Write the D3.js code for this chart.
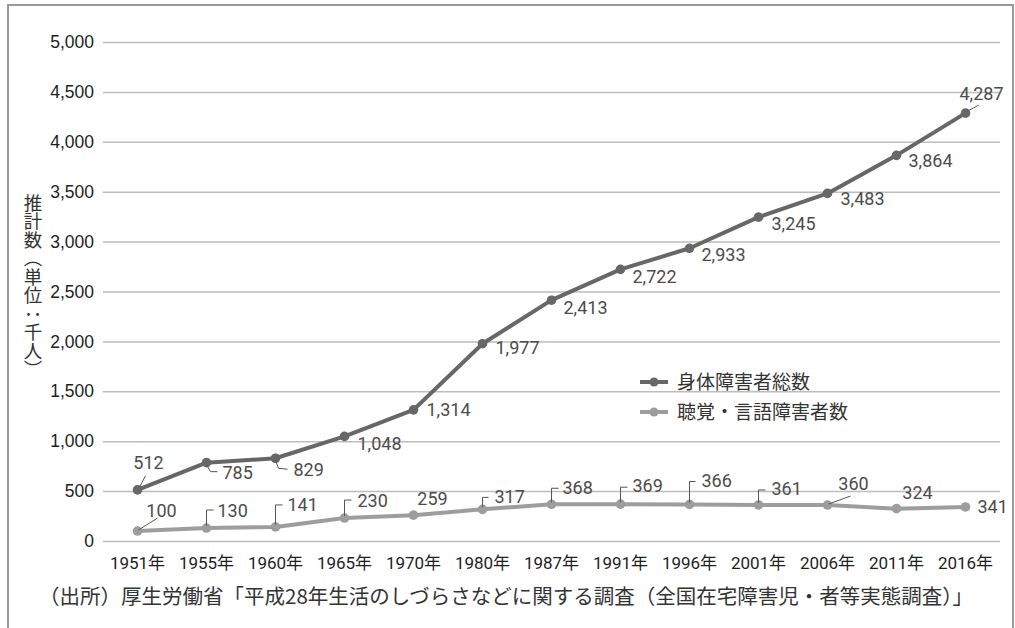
<!DOCTYPE html>
<html>
<head>
<meta charset="utf-8">
<script src="https://cdn.jsdelivr.net/npm/d3@7"></script>
<style>
  body { margin: 0; background: #fff; }
  svg { display: block; }
</style>
</head>
<body>
<div id="chart"></div>
<script>
// data
const years = ["1951年", "1955年", "1960年", "1965年", "1970年", "1980年", "1987年",
    "1991年", "1996年", "2001年", "2006年", "2011年", "2016年"];
const physical = [512, 785, 829, 1048, 1314, 1977, 2413, 2722, 2933, 3245, 3483, 3864, 4287];
const hearing = [100, 130, 141, 230, 259, 317, 368, 369, 366, 361, 360, 324, 341];
const yTicks = [0, 500, 1000, 1500, 2000, 2500, 3000, 3500, 4000, 4500, 5000];
const seriesNames = ["身体障害者総数", "聴覚・言語障害者数"];
const axisTitle = "推計数（単位：千人）";
const source = "（出所）厚生労働省「平成28年生活のしづらさなどに関する調査（全国在宅障害児・者等実態調査）」";

// label placement relative to each point (layout only)
const physLabelPos = [
    { dx: 11, dy: -27, anchor: "middle", leader: [[2, -3], [8, -14]] },
    { dx: 16, dy: 10, anchor: "start", leader: [[0, 2], [4, 9], [11, 9]] },
    { dx: 18, dy: 11, anchor: "start", leader: [[0, 2], [3, 10], [12, 11]] },
    { dx: 13, dy: 7, anchor: "start" },
    { dx: 13, dy: 0, anchor: "start" },
    { dx: 13, dy: 4, anchor: "start" },
    { dx: 12, dy: 7, anchor: "start" },
    { dx: 12, dy: 7, anchor: "start" },
    { dx: 12, dy: 6, anchor: "start" },
    { dx: 13, dy: 6, anchor: "start" },
    { dx: 13, dy: 5, anchor: "start" },
    { dx: 12, dy: 5, anchor: "start" },
    { dx: 16, dy: -20, anchor: "middle", leader: [[2, -2], [13, -8]] }
];
const hearLabelPos = [
    { dx: 24, dy: -21, anchor: "middle", leader: [[1, -1], [20, -13]] },
    { dx: 11, dy: -18, anchor: "start", leader: [[0, -2], [0, -18], [7, -18]] },
    { dx: 12, dy: -22, anchor: "start", leader: [[0, -2], [0, -22], [7, -22]] },
    { dx: 13, dy: -18, anchor: "start", leader: [[0, -2], [0, -18], [7, -18]] },
    { dx: 19, dy: -17, anchor: "middle" },
    { dx: 12, dy: -13, anchor: "start", leader: [[0, -2], [0, -12], [6, -12]] },
    { dx: 11, dy: -17, anchor: "start", leader: [[0, -2], [0, -16], [7, -16]] },
    { dx: 12, dy: -19, anchor: "start", leader: [[0, -2], [0, -17], [7, -17]] },
    { dx: 12, dy: -24, anchor: "start", leader: [[0, -2], [0, -23], [6, -23]] },
    { dx: 13, dy: -16, anchor: "start", leader: [[0, -2], [0, -15], [7, -15]] },
    { dx: 26, dy: -22, anchor: "middle", leader: [[1, -1], [23, -9]] },
    { dx: 21, dy: -16, anchor: "middle" },
    { dx: 12, dy: 0, anchor: "start" }
];

const W = 1015, H = 628;
const plot = { left: 103, right: 1000, top: 42, bottom: 541 };

const svg = d3.select("#chart")
    .append("svg")
    .attr("width", W)
    .attr("height", H);

// frame
svg.append("path")
    .attr("d", `M8,${H} L8,5 L1013,5 L1013,${H}`)
    .attr("fill", "none")
    .attr("stroke", "#9a9a9a")
    .attr("stroke-width", 2);

const x = d3.scaleBand()
    .domain(years)
    .range([plot.left, plot.right])
    .padding(0);
const cx = d => x(d) + x.bandwidth() / 2;

const y = d3.scaleLinear()
    .domain([0, 5000])
    .range([plot.bottom, plot.top]);

// gridlines + y tick labels
const yAxis = svg.append("g")
    .attr("transform", `translate(${plot.left},0)`)
    .call(d3.axisLeft(y).tickValues(yTicks).tickSize(-(plot.right - plot.left)).tickPadding(9)
        .tickFormat(d3.format(",")));
yAxis.select(".domain").remove();
yAxis.selectAll(".tick line")
    .attr("stroke", "#bdbdbd")
    .attr("stroke-width", 1.5);
yAxis.selectAll(".tick text")
    .attr("fill", "#1e1e1e")
    .style("font-family", "'Liberation Sans', Arial, sans-serif")
    .style("font-size", "17.5px");

// x tick labels
const xAxis = svg.append("g")
    .attr("transform", `translate(0,${plot.bottom})`)
    .call(d3.axisBottom(x).tickSize(0).tickPadding(16));
xAxis.select(".domain").remove();
xAxis.selectAll(".tick text")
    .attr("fill", "#1e1e1e")
    .style("font-family", "Roboto, 'Noto Sans CJK JP', sans-serif")
    .style("font-size", "17px");

// vertical axis title
svg.append("text")
    .attr("x", 33)
    .attr("y", 286)
    .attr("text-anchor", "middle")
    .style("writing-mode", "vertical-rl")
    .style("font-family", "'Noto Sans CJK JP', sans-serif")
    .style("font-size", "18.5px")
    .attr("fill", "#333")
    .text(axisTitle);

const series = [
    { name: seriesNames[0], values: physical, color: "#676767", labels: physLabelPos },
    { name: seriesNames[1], values: hearing, color: "#9d9d9d", labels: hearLabelPos }
];

const line = d3.line()
    .x((d, i) => cx(years[i]))
    .y(d => y(d));

series.forEach(s => {
    const g = svg.append("g");
    g.append("path")
        .datum(s.values)
        .attr("d", line)
        .attr("fill", "none")
        .attr("stroke", s.color)
        .attr("stroke-width", 4)
        .attr("stroke-linejoin", "round");

    g.selectAll("circle")
        .data(s.values)
        .join("circle")
        .attr("cx", (d, i) => cx(years[i]))
        .attr("cy", d => y(d))
        .attr("r", 4.8)
        .attr("fill", s.color);

    // leader lines
    s.values.forEach((v, i) => {
        const p = s.labels[i];
        if (!p.leader) return;
        const px = cx(years[i]), py = y(v);
        g.append("polyline")
            .attr("points", p.leader.map(q => `${px + q[0]},${py + q[1]}`).join(" "))
            .attr("fill", "none")
            .attr("stroke", "#555")
            .attr("stroke-width", 1);
    });

    g.selectAll("text.lbl")
        .data(s.values)
        .join("text")
        .attr("class", "lbl")
        .attr("x", (d, i) => cx(years[i]) + s.labels[i].dx)
        .attr("y", (d, i) => y(d) + s.labels[i].dy)
        .attr("dy", "0.36em")
        .attr("text-anchor", (d, i) => s.labels[i].anchor)
        .attr("fill", "#4c4c4c")
        .style("font-family", "Roboto, sans-serif")
        .style("font-size", "18px")
        .text(d => d3.format(",")(d));
});

// legend
const legend = svg.append("g")
    .attr("transform", "translate(640,382)");
series.forEach((s, i) => {
    const row = legend.append("g").attr("transform", `translate(0,${i * 30})`);
    row.append("line")
        .attr("x1", 0).attr("x2", 28)
        .attr("stroke", s.color)
        .attr("stroke-width", 4);
    row.append("circle")
        .attr("cx", 14).attr("r", 4.5)
        .attr("fill", s.color);
    row.append("text")
        .attr("x", 37)
        .attr("dy", "0.36em")
        .attr("fill", "#333")
        .style("font-family", "'Noto Sans CJK JP', sans-serif")
        .style("font-size", "19px")
        .text(s.name);
});

// source note
svg.append("text")
    .attr("x", 506)
    .attr("y", 597)
    .attr("dy", "0.36em")
    .attr("text-anchor", "middle")
    .attr("fill", "#333")
    .style("font-family", "'Noto Sans CJK JP', sans-serif")
    .style("font-size", "20.5px")
    .text(source);
</script>
</body>
</html>
